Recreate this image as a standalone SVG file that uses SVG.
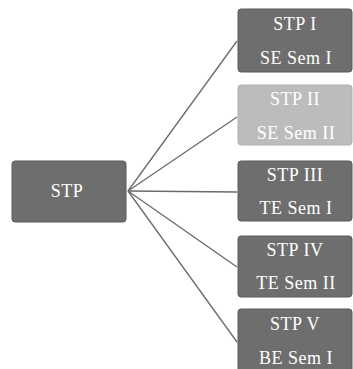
<svg xmlns="http://www.w3.org/2000/svg" width="353" height="369" viewBox="0 0 353 369">
<style>
.box{fill:#6e6e6e;stroke:#5a5a5a;stroke-width:1}
.light{fill:#bcbcbc;stroke:#b0b0b0;stroke-width:1}
.t{font-family:"Liberation Serif","Times New Roman",serif;font-size:18px;fill:#ffffff;text-anchor:middle;letter-spacing:0.5px}
.c{stroke:#6a6a6a;stroke-width:1.3;fill:none}
</style>
<rect width="353" height="369" fill="#ffffff"/>
<g id="connectors">
<line class="c" x1="128" y1="191" x2="237" y2="41"/>
<line class="c" x1="128" y1="191" x2="237" y2="117"/>
<line class="c" x1="128" y1="191" x2="237" y2="192"/>
<line class="c" x1="128" y1="191" x2="237" y2="267"/>
<line class="c" x1="128" y1="191" x2="237" y2="342"/>
</g>
<g id="stp">
<rect class="box" x="12" y="161" width="114" height="61" rx="3"/>
<text class="t" x="67" y="197">STP</text>
</g>
<g id="stp1">
<rect class="box" x="238" y="9" width="114" height="63" rx="3"/>
<text class="t" x="295" y="30">STP I</text>
<text class="t" x="296" y="64">SE Sem I</text>
</g>
<g id="stp2">
<rect class="light" x="238" y="85" width="114" height="60" rx="3"/>
<text class="t" x="295" y="105">STP II</text>
<text class="t" x="296" y="139">SE Sem II</text>
</g>
<g id="stp3">
<rect class="box" x="238" y="161" width="114" height="60" rx="3"/>
<text class="t" x="295" y="181">STP III</text>
<text class="t" x="296" y="214">TE Sem I</text>
</g>
<g id="stp4">
<rect class="box" x="238" y="236" width="114" height="61" rx="3"/>
<text class="t" x="295" y="256">STP IV</text>
<text class="t" x="296" y="289">TE Sem II</text>
</g>
<g id="stp5">
<rect class="box" x="238" y="309" width="114" height="64" rx="3"/>
<text class="t" x="295" y="330">STP V</text>
<text class="t" x="296" y="364">BE Sem I</text>
</g>
</svg>
